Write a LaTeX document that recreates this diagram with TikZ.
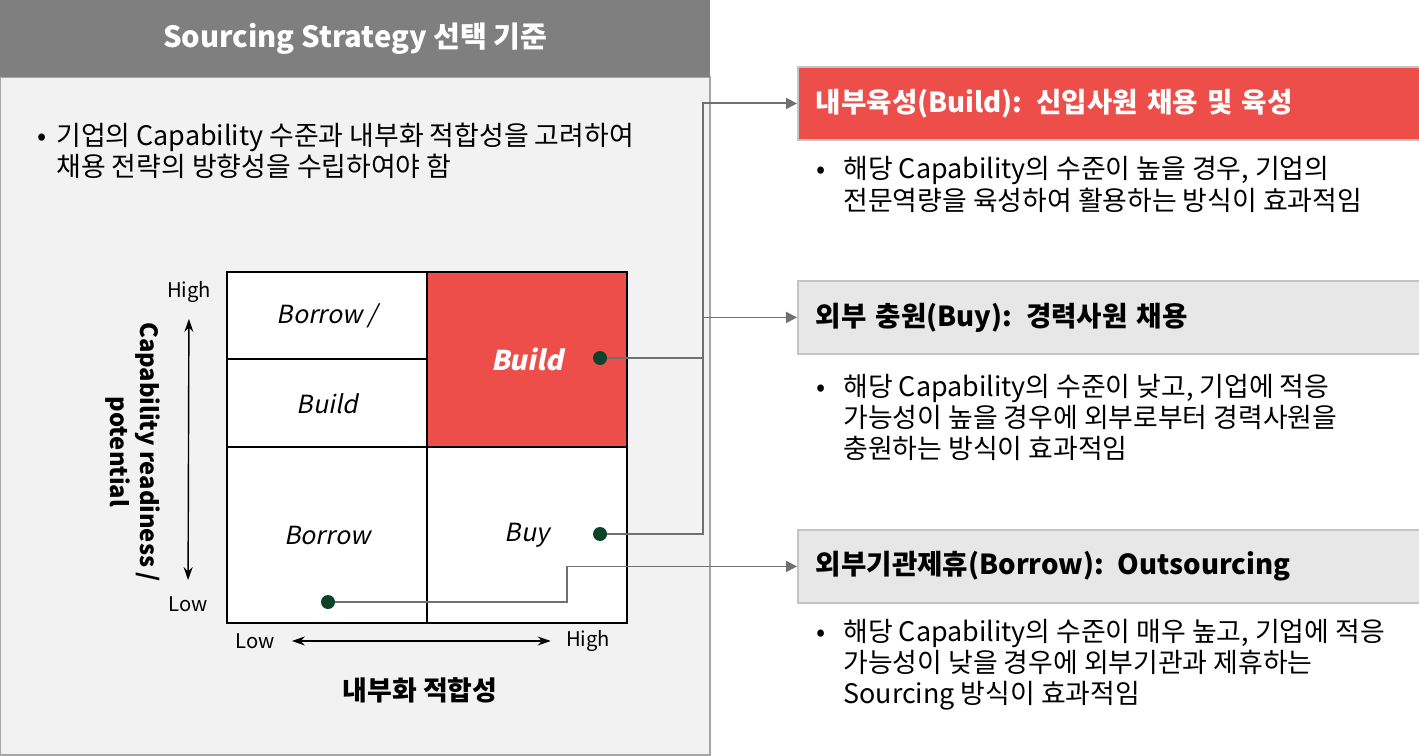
\documentclass[tikz,border=0pt]{standalone}
\usepackage{fontspec}
\setmainfont{Noto Sans CJK KR}
\newfontfamily\slantfont[FakeSlant=0.2]{Noto Sans CJK KR}
\usepackage{xcolor}
\usepackage{tikz}
\usetikzlibrary{positioning, arrows.meta, calc}

\definecolor{titlegray}{RGB}{127,127,127}
\definecolor{panelgray}{RGB}{242,242,242}
\definecolor{panelline}{RGB}{166,166,166}
\definecolor{buildred}{RGB}{238,78,74}
\definecolor{boxgray}{RGB}{231,231,231}
\definecolor{boxline}{RGB}{196,196,196}
\definecolor{dotgreen}{RGB}{14,66,42}
\definecolor{linkgray}{RGB}{112,112,112}

\begin{document}
\begin{tikzpicture}[
  x=0.2mm, y=-0.2mm,
  bodytext/.style={anchor=west, inner sep=0pt, align=left, font=\fontsize{15.3}{17}\selectfont},
  headbox/.style={draw=boxline, line width=1.1pt, fill=boxgray, anchor=north west,
    minimum width=124.4mm, minimum height=14.6mm, inner xsep=3.6mm, text width=117.2mm,
    align=left, font=\fontsize{15.7}{18}\selectfont\bfseries},
  cell/.style={draw, line width=1.4pt, fill=white, anchor=north west, minimum width=40mm,
    inner sep=0pt, font=\slantfont\fontsize{14.2}{17}\selectfont},
  markdot/.style={circle, fill=dotgreen, minimum size=2.8mm, inner sep=0pt},
  link/.style={draw=linkgray, line width=1.1pt},
  linkarr/.style={link, -{Triangle[length=2.2mm, width=2.2mm]}},
  axis/.style={{Stealth[length=2.6mm, width=1.8mm]}-{Stealth[length=2.6mm, width=1.8mm]}, line width=0.8pt},
  axislabel/.style={inner sep=0pt, font=\fontsize{11.5}{14}\selectfont},
]
\useasboundingbox (0,0) rectangle (1419,756);

% === Left panel ===
\draw[panelline, fill=panelgray, line width=0.8pt] (0,77) rectangle (710,755);
\node[fill=titlegray, anchor=north west, minimum width=142mm, minimum height=15.4mm, inner sep=0pt,
      text=white, font=\fontsize{16.6}{19}\selectfont\bfseries] (titlebar) at (0,0) {Sourcing Strategy 선택 기준};

% Intro bullet
\node[bodytext] (intro) at (37,154) {\begin{tabular}{@{}p{3.8mm}@{}l@{}}\textbullet & 기업의 Capability 수준과 내부화 적합성을 고려하여\\ & 채용 전략의 방향성을 수립하여야 함\end{tabular}};

% === Matrix ===
\node[cell, minimum height=17.4mm] (bbtop) at (226,271) {Borrow /};
\node[cell, minimum height=17.6mm] (bbbot) at (226,358) {Build};
\node[cell, minimum height=35mm, fill=buildred, text=white,
      font=\slantfont\fontsize{15.5}{18}\selectfont\bfseries] (buildcell) at (426,271) {Build};
\node[cell, minimum height=35.2mm] (borrowcell) at (226,446) {Borrow};
\node[cell, minimum height=35.2mm] (buycell) at (426,446) {Buy};

% Axes
\node[axislabel] (yhigh) at (189,292) {High};
\node[axislabel] (ylow) at (188,604) {Low};
\draw[axis, shorten <=3.2mm, shorten >=3.2mm] (yhigh) -- (ylow);
\node[rotate=-90, align=center, inner sep=0pt, font=\fontsize{13.5}{17}\selectfont\bfseries] (ytitle) at (133,452) {Capability readiness /\\potential};

\node[axislabel] (xlow) at (255,641) {Low};
\node[axislabel] (xhigh) at (588,641) {High};
\draw[axis, shorten <=3.4mm, shorten >=3mm] (xlow) -- (xhigh);
\node[inner sep=0pt, font=\fontsize{15.3}{18}\selectfont\bfseries] (xtitle) at (420,690) {내부화 적합성};

% === Right side: strategies ===
\node[headbox, fill=buildred, text=white] (hbuild) at (797,66) {내부육성(Build): 신입사원 채용 및 육성};
\node[bodytext] (buildnote) at (816,188) {\begin{tabular}{@{}p{5.4mm}@{}l@{}}\textbullet & 해당 Capability의 수준이 높을 경우, 기업의\\ & 전문역량을 육성하여 활용하는 방식이 효과적임\end{tabular}};

\node[headbox] (hbuy) at (797,280) {외부 충원(Buy): 경력사원 채용};
\node[bodytext] (buynote) at (816,421) {\begin{tabular}{@{}p{5.4mm}@{}l@{}}\textbullet & 해당 Capability의 수준이 낮고, 기업에 적응\\ & 가능성이 높을 경우에 외부로부터 경력사원을\\ & 충원하는 방식이 효과적임\end{tabular}};

\node[headbox] (hborrow) at (797,529) {외부기관제휴(Borrow): Outsourcing};
\node[bodytext] (borrownote) at (816,666) {\begin{tabular}{@{}p{5.4mm}@{}l@{}}\textbullet & 해당 Capability의 수준이 매우 높고, 기업에 적응\\ & 가능성이 낮을 경우에 외부기관과 제휴하는\\ & Sourcing 방식이 효과적임\end{tabular}};

% === Connectors ===
\node[markdot] (dbuild) at (600,358) {};
\node[markdot] (dbuy) at (600,534) {};
\node[markdot] (dborrow) at (328,602) {};
\coordinate (bus) at (703,0);
\coordinate (jog) at (567,0);
\draw[linkarr] (dbuild) -- (dbuild -| bus) |- (hbuild.west);
\draw[linkarr] (dbuy) -- (dbuy -| bus) |- (hbuy.west);
\draw[linkarr] (dborrow) -- (dborrow -| jog) |- (hborrow.west);

\end{tikzpicture}
\end{document}
